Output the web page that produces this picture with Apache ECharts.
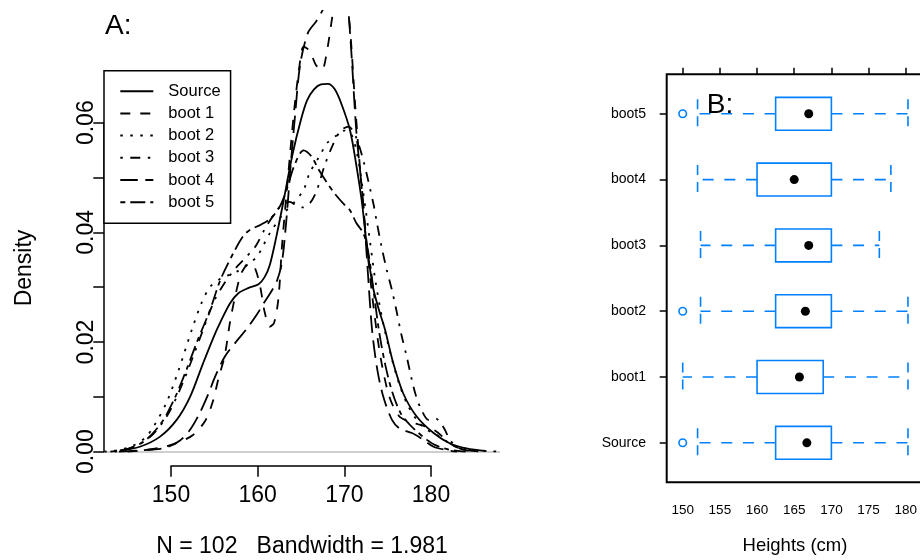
<!DOCTYPE html>
<html><head><meta charset="utf-8">
<script src="https://cdn.jsdelivr.net/npm/echarts@6/dist/echarts.min.js"></script>
<style>html,body{margin:0;padding:0;background:#fff}#c{width:920px;height:560px}</style>
</head><body><div id="c"></div>
<script>
const FONT = '"Liberation Sans", Arial, Helvetica, sans-serif';

// ---------- Panel A: kernel density estimates (height cm, density) ----------
const densityNames = ['Source', 'boot 1', 'boot 2', 'boot 3', 'boot 4', 'boot 5'];
const sourceDensity = [[144.1,0.0002],[146.4,0.0009],[148.7,0.0027],[150.65,0.0058],[152.2,0.0100],[153.7,0.0161],[155.0,0.0212],[155.7,0.0236],[156.8,0.0270],[157.8,0.0289],[158.9,0.0298],[160.1,0.0305],[160.8,0.0318],[161.4,0.0340],[162.2,0.0395],[163.0,0.0458],[164.0,0.0540],[165.0,0.0605],[165.7,0.0640],[166.5,0.0660],[167.3,0.0669],[168.1,0.0670],[168.9,0.0660],[169.7,0.0632],[170.65,0.0586],[171.3,0.0530],[172.0,0.0458],[172.6,0.0375],[173.3,0.0300],[174.0,0.0258],[174.7,0.0222],[175.65,0.0161],[176.8,0.0106],[178.35,0.0064],[180.3,0.0034],[182.2,0.0015],[184.1,0.0006],[186.4,0.0001]];
const boot1Density = [[145,0.0000],[147,0.0003],[149,0.0008],[151,0.0018],[152.5,0.0030],[153.9,0.0055],[154.8,0.0090],[155.5,0.0135],[156.2,0.0175],[156.8,0.0235],[157.5,0.0290],[158.2,0.0328],[159.1,0.0343],[159.7,0.0334],[160.3,0.0300],[160.8,0.0255],[161.4,0.0228],[161.9,0.0235],[162.4,0.0280],[162.8,0.0373],[163.5,0.0500],[164.2,0.0620],[164.8,0.0700],[165.3,0.0738],[166.0,0.0730],[166.7,0.0705],[167.4,0.0695],[168.0,0.0730],[168.7,0.0800],[169.4,0.0850],[170.0,0.0840],[170.6,0.0780],[171.3,0.0620],[172.0,0.0480],[172.7,0.0360],[173.4,0.0260],[174.2,0.0170],[175.2,0.0100],[176.3,0.0065],[177.4,0.0055],[178.5,0.0050],[179.5,0.0045],[180.5,0.0038],[181.5,0.0025],[182.5,0.0012],[184,0.0003],[186,0.0000]];
const boot2Density = [[142.3,0.0000],[144,0.0003],[145.5,0.0010],[147,0.0025],[148,0.0046],[149.5,0.0090],[150.8,0.0145],[152.4,0.0222],[153.5,0.0270],[154.5,0.0300],[155.7,0.0315],[157.6,0.0328],[158.7,0.0340],[159.9,0.0355],[161.4,0.0398],[163.0,0.0434],[164.1,0.0452],[165.3,0.0477],[166.0,0.0508],[167.2,0.0540],[168.0,0.0562],[169.1,0.0576],[170.0,0.0585],[170.8,0.0578],[171.5,0.0540],[172.2,0.0470],[172.9,0.0390],[173.6,0.0310],[174.4,0.0240],[175.3,0.0180],[176.3,0.0125],[177.3,0.0085],[178.5,0.0055],[179.5,0.0040],[180.5,0.0032],[181.5,0.0022],[182.5,0.0012],[184,0.0005],[186,0.0002],[188,0.0000]];
const boot3Density = [[143.5,0.0000],[145.3,0.0006],[147.6,0.0027],[149.5,0.0064],[151.0,0.0112],[152.4,0.0167],[153.7,0.0222],[155.0,0.0275],[156.3,0.0310],[157.5,0.0335],[158.7,0.0355],[159.8,0.0375],[160.8,0.0405],[161.8,0.0430],[162.8,0.0450],[163.7,0.0455],[164.5,0.0448],[165.2,0.0445],[166.0,0.0452],[166.8,0.0475],[167.7,0.0520],[168.7,0.0560],[169.6,0.0585],[170.5,0.0592],[171.3,0.0575],[172.2,0.0530],[173.35,0.0452],[173.7,0.0422],[174.3,0.0373],[174.9,0.0331],[175.5,0.0294],[176.0,0.0258],[176.6,0.0212],[177.2,0.0173],[177.8,0.0130],[178.3,0.0100],[178.9,0.0076],[179.7,0.0058],[180.5,0.0061],[181.1,0.0052],[181.6,0.0040],[182.2,0.0021],[183.2,0.0007],[184.5,0.0001]];
const boot4Density = [[144,0.0000],[146,0.0002],[148,0.0004],[149.5,0.0008],[151,0.0020],[152.2,0.0040],[153.3,0.0070],[154.3,0.0105],[155.1,0.0137],[156.2,0.0173],[157.5,0.0200],[158.8,0.0225],[160.0,0.0252],[160.6,0.0268],[161.5,0.0290],[162.2,0.0310],[162.8,0.0345],[163.3,0.0420],[163.8,0.0520],[164.3,0.0610],[164.9,0.0705],[165.8,0.0763],[166.8,0.0785],[167.8,0.0815],[168.8,0.0870],[169.7,0.0880],[170.3,0.0830],[170.8,0.0730],[171.4,0.0580],[172.15,0.0458],[172.7,0.0330],[173.2,0.0222],[173.8,0.0150],[174.5,0.0100],[175.5,0.0058],[176.4,0.0042],[177.8,0.0034],[178.9,0.0024],[180.3,0.0009],[181.8,0.0003],[183,0.0000]];
const boot5Density = [[143,0.0000],[145,0.0005],[147,0.0020],[149,0.0055],[150.5,0.0100],[151.8,0.0150],[153.0,0.0200],[154.5,0.0258],[155.7,0.0313],[157.2,0.0362],[158.3,0.0392],[159.1,0.0404],[160.3,0.0413],[161.5,0.0425],[162.5,0.0445],[163.3,0.0475],[164.2,0.0520],[165.3,0.0549],[166.2,0.0538],[167.0,0.0515],[168.0,0.0490],[169.0,0.0468],[170.0,0.0450],[170.65,0.0440],[171.4,0.0416],[172.2,0.0398],[172.8,0.0360],[173.4,0.0290],[174.0,0.0220],[174.7,0.0160],[175.5,0.0110],[176.5,0.0070],[177.5,0.0050],[178.5,0.0035],[179.5,0.0022],[180.5,0.0012],[182,0.0004],[184,0.0000]];
const densityTicks = [0, 0.01, 0.02, 0.03, 0.04, 0.05, 0.06];
const densityLabels = [0, 0.02, 0.04, 0.06];
const heightTicksA = [150, 160, 170, 180];

// ---------- Panel B: box-and-whisker summaries ----------
const groupNames = ['Source', 'boot1', 'boot2', 'boot3', 'boot4', 'boot5'];
const whiskerLow  = [152.0, 150.0, 152.4, 152.4, 152.0, 152.0];
const quartile1   = [162.5, 160.0, 162.5, 162.5, 160.0, 162.5];
const medians     = [166.7, 165.7, 166.5, 166.95, 165.0, 166.95];
const quartile3   = [170.0, 168.9, 170.0, 170.0, 170.0, 170.0];
const whiskerHigh = [180.3, 180.3, 180.3, 176.45, 178.0, 180.3];
const outlierGroup  = [0, 2, 5];
const outlierHeight = [150, 150, 150];
const heightTicksB = [150, 155, 160, 165, 170, 175, 180];
const groupTicks = [0, 1, 2, 3, 4, 5];

const densityData = [sourceDensity, boot1Density, boot2Density, boot3Density, boot4Density, boot5Density];
const dashPatterns = ['solid', [10, 10], [2.5, 7.5], [2.5, 7.5, 10, 7.5], [17.5, 7.5], [5, 5, 15, 5]];
const BLUE = '#0080ff';

const chart = echarts.init(document.getElementById('c'), null, {renderer: 'canvas'});

const lineSeries = densityData.map((d, i) => ({
  type: 'line', name: densityNames[i], xAxisIndex: 0, yAxisIndex: 0,
  data: d, symbol: 'none', showSymbol: false, smooth: 0.3, clip: true,
  lineStyle: {color: '#000', width: 1.8, type: dashPatterns[i]},
  itemStyle: {color: '#000'},
  silent: true, z: 3,
  markLine: i === 0 ? {
    silent: true, symbol: 'none', label: {show: false},
    lineStyle: {color: '#bebebe', width: 1.5, type: 'solid'},
    data: [{yAxis: 0}], z: 1
  } : undefined
}));

const option = {
  animation: false,
  backgroundColor: '#fff',
  textStyle: {fontFamily: FONT},
  grid: [
    {left: 104, top: 11, width: 396, height: 455, outerBoundsMode: 'none', containLabel: false},
    {left: 104, top: 122.7, width: 100, height: 329, outerBoundsMode: 'none', containLabel: false},
    {left: 171, top: 400, width: 260, height: 66, outerBoundsMode: 'none', containLabel: false},
    {left: 666.7, top: 74.3, width: 276.2, height: 408, outerBoundsMode: 'none', containLabel: false,
      show: true, borderColor: '#000', borderWidth: 2, backgroundColor: 'transparent'}
  ],
  xAxis: [
    {gridIndex: 0, type: 'value', min: 142.269, max: 187.962, show: false},
    {gridIndex: 1, type: 'value', min: 0, max: 1, show: false},
    {gridIndex: 2, type: 'value', min: 150, max: 180, interval: 10, position: 'bottom',
      axisLine: {show: true, lineStyle: {color: '#000', width: 1.5}},
      axisTick: {show: true, length: 10.7, lineStyle: {color: '#000', width: 1.5}},
      axisLabel: {customValues: heightTicksA, fontSize: 23, color: '#000', margin: 18, fontFamily: FONT},
      splitLine: {show: false}},
    {gridIndex: 3, type: 'value', min: 147.847, max: 185, position: 'bottom',
      axisLine: {show: false}, axisTick: {show: false},
      axisLabel: {customValues: heightTicksB, fontSize: 13.5, color: '#000', margin: 21, fontFamily: FONT},
      splitLine: {show: false}},
    {gridIndex: 3, type: 'value', min: 147.847, max: 185, position: 'top',
      axisLine: {show: false},
      axisTick: {show: true, customValues: heightTicksB, length: 6.5, lineStyle: {color: '#000', width: 1.5}},
      axisLabel: {show: false}, splitLine: {show: false}}
  ],
  yAxis: [
    {gridIndex: 0, type: 'value', min: -0.002605, max: 0.080273, show: false},
    {gridIndex: 1, type: 'value', min: 0, max: 0.06, position: 'left',
      axisLine: {show: true, lineStyle: {color: '#000', width: 1.5}},
      axisTick: {show: true, customValues: densityTicks, length: 10.7, lineStyle: {color: '#000', width: 1.5}},
      axisLabel: {customValues: densityLabels, rotate: 90, fontSize: 23, color: '#000', margin: 6, fontFamily: FONT,
        formatter: v => Number(v).toFixed(2)},
      splitLine: {show: false}},
    {gridIndex: 2, type: 'value', show: false},
    {gridIndex: 3, type: 'value', min: -0.6, max: 5.6, position: 'left',
      axisLine: {show: false},
      axisTick: {show: true, customValues: groupTicks, length: 7, lineStyle: {color: '#000', width: 1.5}},
      axisLabel: {customValues: groupTicks, fontSize: 14, color: '#000', margin: 20.7, fontFamily: FONT,
        formatter: v => groupNames[Math.round(v)]},
      splitLine: {show: false}}
  ],
  legend: {
    data: densityNames, orient: 'vertical', left: 104, top: 70.7,
    itemWidth: 33, itemHeight: 16, itemGap: 5.2,
    padding: [12, 10, 12.6, 15.3],
    borderColor: '#000', borderWidth: 1.5, backgroundColor: '#fff',
    selectedMode: false,
    itemStyle: {color: 'rgba(0,0,0,0)', borderWidth: 0},
    textStyle: {fontSize: 16.5, color: '#000', fontFamily: FONT, lineHeight: 16, padding: [0, 0, 0, 10]}
  },
  graphic: [
    {type: 'text', x: 105, y: 26, z: 100, style: {text: 'A:', font: '28px ' + FONT, fill: '#000', align: 'left', verticalAlign: 'middle'}},
    {type: 'text', x: 25, y: 268, rotation: Math.PI / 2, z: 100, style: {text: 'Density', font: '23px ' + FONT, fill: '#000', align: 'center', verticalAlign: 'middle'}},
    {type: 'text', x: 302, y: 547, z: 100, style: {text: 'N = 102   Bandwidth = 1.981', font: '23px ' + FONT, fill: '#000', align: 'center', verticalAlign: 'middle'}},
    {type: 'text', x: 706.7, y: 105, z: 100, style: {text: 'B:', font: '28px ' + FONT, fill: '#000', align: 'left', verticalAlign: 'middle'}},
    {type: 'text', x: 795, y: 546, z: 100, style: {text: 'Heights (cm)', font: '18.5px ' + FONT, fill: '#000', align: 'center', verticalAlign: 'middle'}}
  ],
  series: lineSeries.concat([
    {
      type: 'custom', xAxisIndex: 3, yAxisIndex: 3, silent: true, clip: false,
      data: groupNames.map((_, i) => [i, whiskerLow[i], quartile1[i], quartile3[i], whiskerHigh[i]]),
      encode: {x: [1, 2, 3, 4], y: 0},
      renderItem: function (params, api) {
        const yi = api.value(0);
        const lo = api.coord([api.value(1), yi]);
        const b1 = api.coord([api.value(2), yi]);
        const b3 = api.coord([api.value(3), yi]);
        const hi = api.coord([api.value(4), yi]);
        const boxH = api.size([0, 0.5])[1];
        const capH = api.size([0, 0.44])[1];
        const dash = [11, 10.7];
        const st = {stroke: BLUE, lineWidth: 1.6, fill: 'none'};
        const dst = {stroke: BLUE, lineWidth: 1.6, lineDash: dash};
        return {type: 'group', children: [
          {type: 'line', shape: {x1: b1[0], y1: b1[1], x2: lo[0], y2: lo[1]}, style: dst},
          {type: 'line', shape: {x1: b3[0], y1: b3[1], x2: hi[0], y2: hi[1]}, style: dst},
          {type: 'line', shape: {x1: lo[0], y1: lo[1] - capH / 2, x2: lo[0], y2: lo[1] + capH / 2}, style: {stroke: BLUE, lineWidth: 1.6, lineDash: [10, 7]}},
          {type: 'line', shape: {x1: hi[0], y1: hi[1] - capH / 2, x2: hi[0], y2: hi[1] + capH / 2}, style: {stroke: BLUE, lineWidth: 1.6, lineDash: [10, 7]}},
          {type: 'rect', shape: {x: b1[0], y: b1[1] - boxH / 2, width: b3[0] - b1[0], height: boxH}, style: st}
        ]};
      },
      z: 2
    },
    {
      type: 'scatter', xAxisIndex: 3, yAxisIndex: 3, silent: true,
      data: medians.map((m, i) => [m, i]), symbol: 'circle', symbolSize: 9,
      itemStyle: {color: '#000', opacity: 1}, z: 4
    },
    {
      type: 'scatter', xAxisIndex: 3, yAxisIndex: 3, silent: true,
      data: outlierHeight.map((h, k) => [h, outlierGroup[k]]), symbol: 'circle', symbolSize: 7.5,
      itemStyle: {color: 'rgba(0,0,0,0)', borderColor: BLUE, borderWidth: 1.6, opacity: 1}, z: 4
    }
  ])
};
chart.setOption(option);
</script>
</body></html>
